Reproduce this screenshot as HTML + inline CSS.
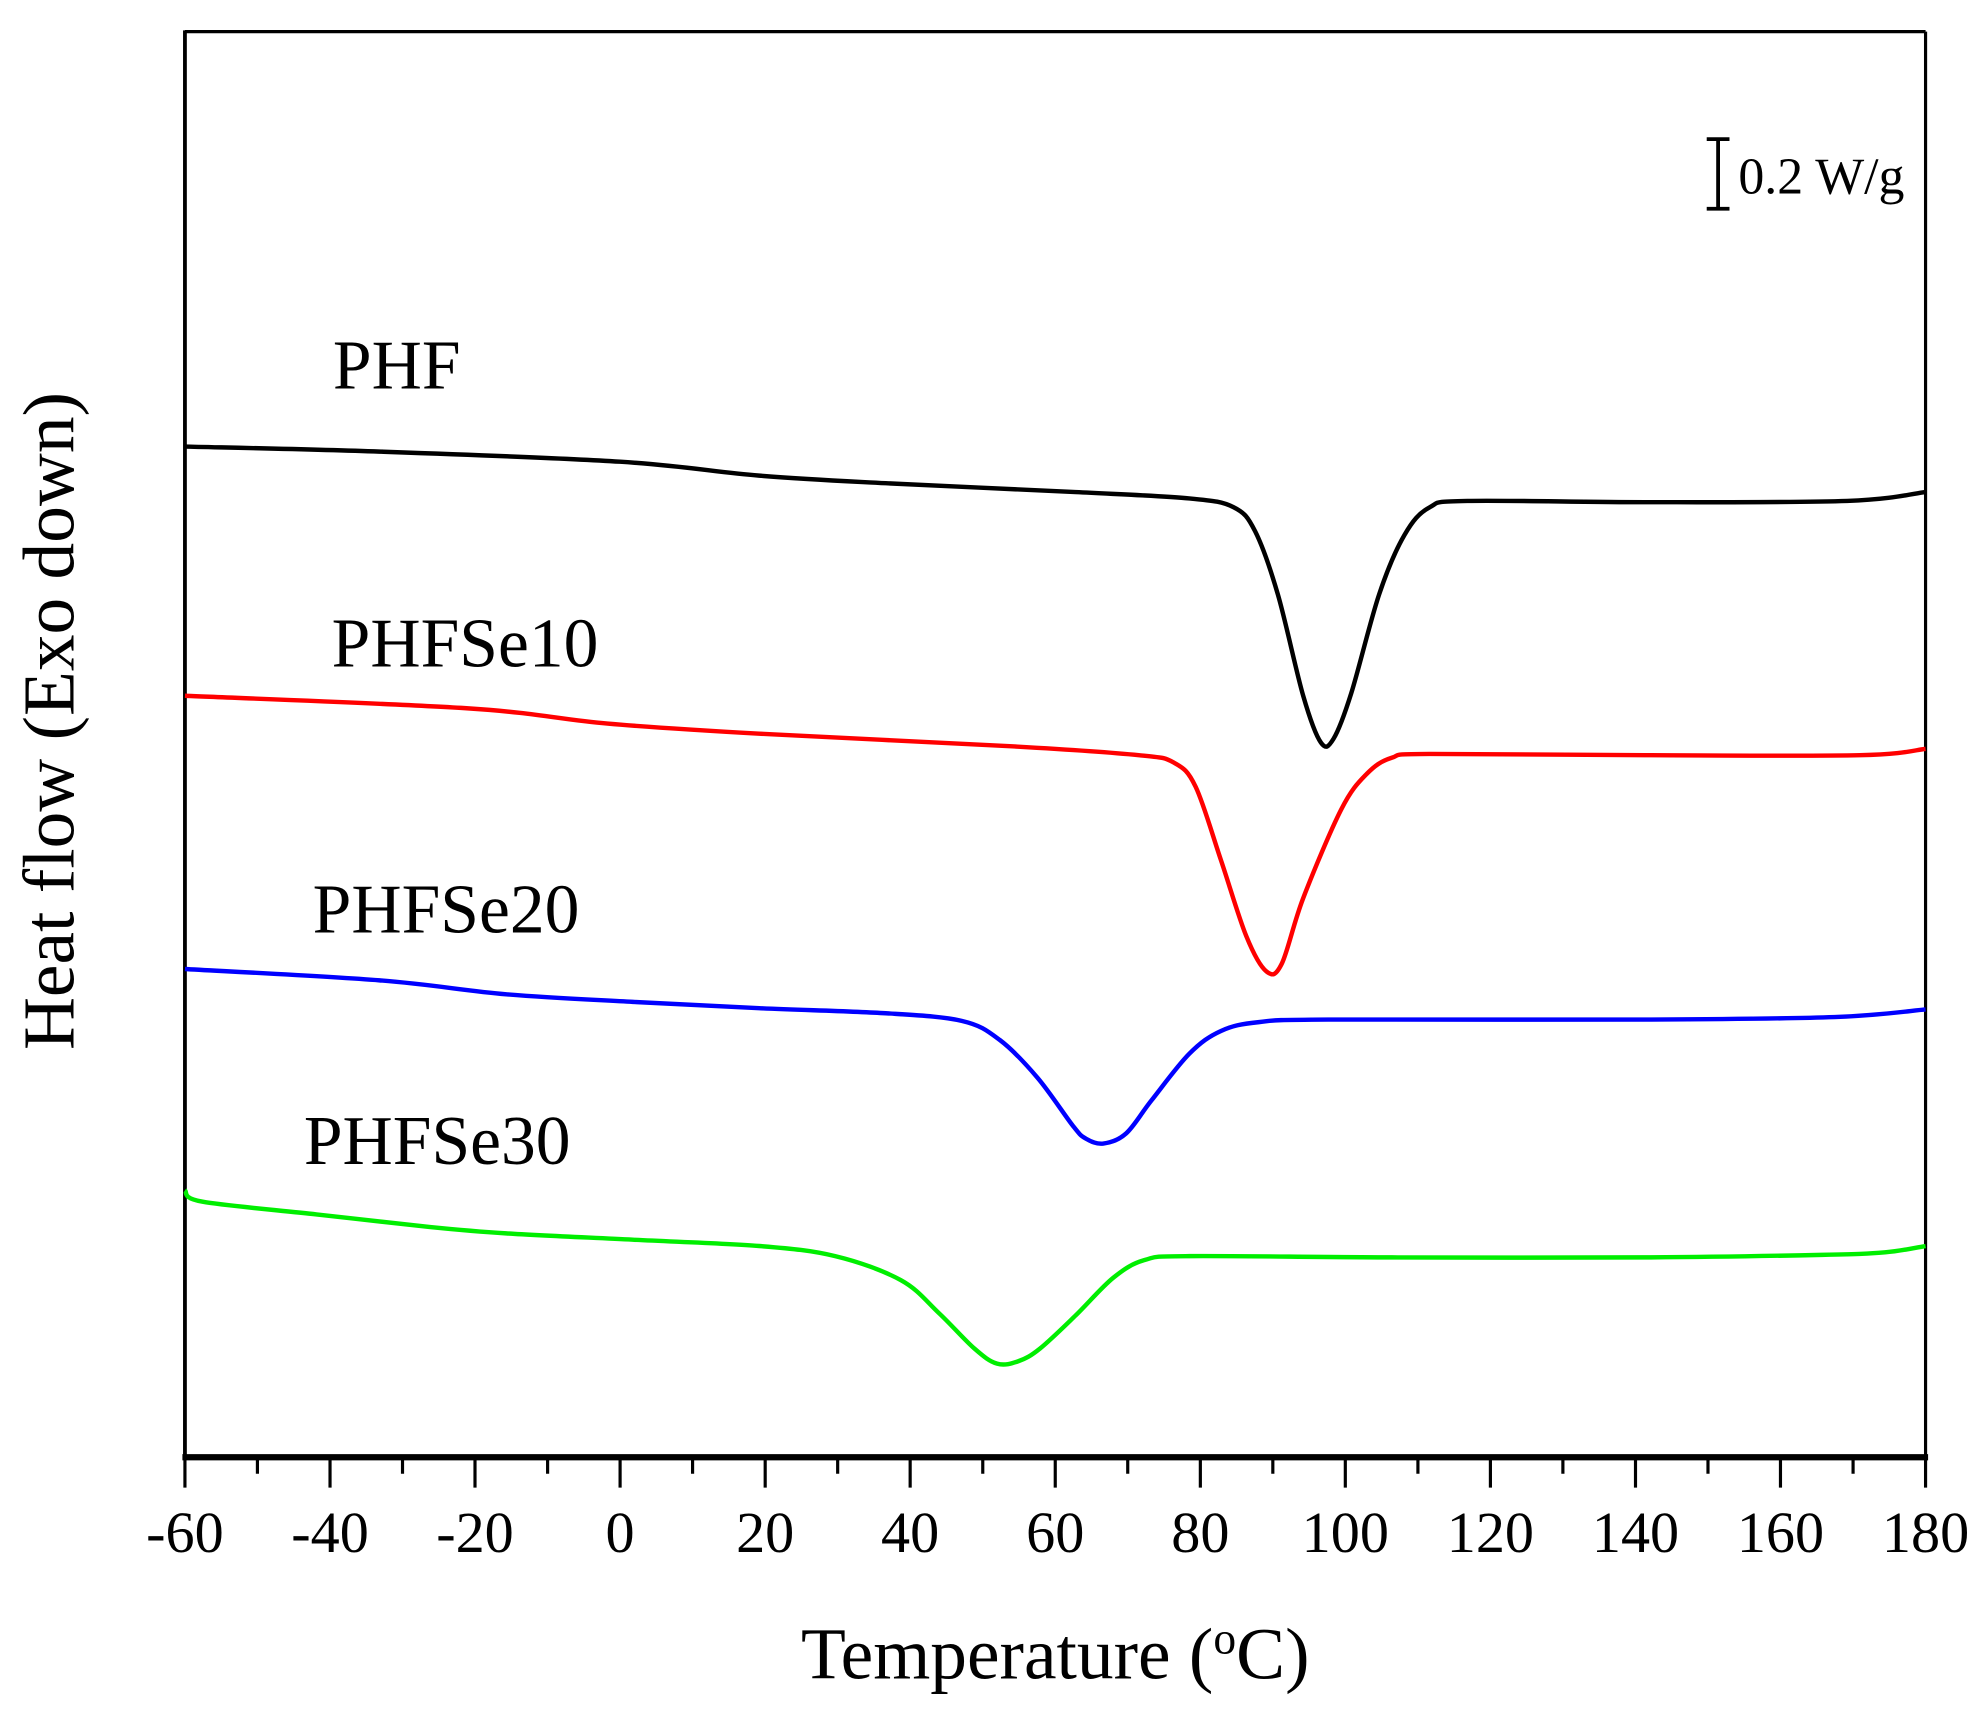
<!DOCTYPE html>
<html><head><meta charset="utf-8"><style>html,body{margin:0;padding:0;background:#fff}svg{display:block}</style></head>
<body>
<svg id="s" width="1984" height="1709" viewBox="0 0 1568 1351" xmlns="http://www.w3.org/2000/svg" font-family="'Liberation Serif', serif">
<rect width="1568" height="1351" fill="#fff"/>
<line x1="146" y1="25" x2="1522" y2="25" stroke="#000" stroke-width="2.5"/>
<line x1="1522" y1="25" x2="1522" y2="1153" stroke="#000" stroke-width="2.5"/>
<line x1="146" y1="24" x2="146" y2="1154" stroke="#000" stroke-width="3"/>
<line x1="144" y1="1152" x2="1524" y2="1152" stroke="#000" stroke-width="5"/>
<g stroke="#000" stroke-width="2.5">
<path d="M146 1152V1176M260.7 1152V1176M375.3 1152V1176M490 1152V1176M604.7 1152V1176M719.3 1152V1176M834 1152V1176M948.7 1152V1176M1063.3 1152V1176M1178 1152V1176M1292.7 1152V1176M1407.3 1152V1176M1522 1152V1176"/>
<path d="M203.3 1152V1165M318 1152V1165M432.7 1152V1165M547.3 1152V1165M662 1152V1165M776.7 1152V1165M891.3 1152V1165M1006 1152V1165M1120.7 1152V1165M1235.3 1152V1165M1350 1152V1165M1464.7 1152V1165"/>
</g>
<g font-size="46" text-anchor="middle">
<text x="146" y="1227">-60</text><text x="260.7" y="1227">-40</text><text x="375.3" y="1227">-20</text><text x="490" y="1227">0</text><text x="604.7" y="1227">20</text><text x="719.3" y="1227">40</text><text x="834" y="1227">60</text><text x="948.7" y="1227">80</text><text x="1063.3" y="1227">100</text><text x="1178" y="1227">120</text><text x="1292.7" y="1227">140</text><text x="1407.3" y="1227">160</text><text x="1522" y="1227">180</text>
</g>
<text x="834" y="1327" font-size="58" text-anchor="middle">Temperature (<tspan font-size="36" dy="-20">o</tspan><tspan dy="20">C)</tspan></text>
<text transform="translate(58,570) rotate(-90)" font-size="58" text-anchor="middle">Heat flow (Exo down)</text>
<g fill="none" stroke-width="3.5" stroke-linejoin="round">
<path class="c" stroke="#000" data-p="146,353 300,357 490,365 600,376 700,382 850,389 940,394 975,401 992,420 1010,470 1030,550 1044,587 1054,584 1068,548 1090,470 1110,423 1130,401 1160,396 1300,397 1460,396 1522,389"/>
<path class="c" stroke="#ff0000" data-p="146,550 370,560 480,572 600,580 800,590 900,597 928,603 945,622 965,680 985,740 1001,768 1013,762 1030,710 1060,640 1080,612 1100,599 1130,596 1300,597 1470,597 1522,592"/>
<path class="c" stroke="#0000ff" data-p="146,766 300,775 400,786 500,792 600,797 700,801 760,807 790,822 820,852 848,890 858,900 872,904 890,896 910,870 940,833 965,815 995,808 1050,806 1300,806 1450,804 1522,798"/>
<path class="c" stroke="#00ee00" data-p="146,941 160,950 250,960 340,970 400,975 500,980 600,985 660,993 712,1012 742,1038 770,1066 788,1078 805,1076 822,1066 850,1040 880,1010 905,996 940,993 1100,994 1300,994 1440,992 1490,990 1522,985"/>
</g>
<g font-size="55">
<text x="263" y="307">PHF</text>
<text x="262" y="527">PHFSe10</text>
<text x="247" y="737">PHFSe20</text>
<text x="240" y="920">PHFSe30</text>
</g>
<g stroke="#000" stroke-width="3"><line x1="1358" y1="110" x2="1358" y2="165"/><line x1="1349" y1="110" x2="1367" y2="110"/><line x1="1349" y1="165" x2="1367" y2="165"/></g>
<text x="1374" y="153" font-size="41">0.2 W/g</text>
</svg>
<script>
document.querySelectorAll('path.c').forEach(function(el){
var p=el.getAttribute('data-p').split(' ').map(function(s){return s.split(',').map(Number);});
var d='M'+p[0][0]+' '+p[0][1];
for(var i=0;i<p.length-1;i++){
var p0=p[i-1]||p[i],p1=p[i],p2=p[i+1],p3=p[i+2]||p2;
var c1=[p1[0]+(p2[0]-p0[0])/6,p1[1]+(p2[1]-p0[1])/6];
var c2=[p2[0]-(p3[0]-p1[0])/6,p2[1]-(p3[1]-p1[1])/6];
d+=' C'+c1[0]+' '+c1[1]+' '+c2[0]+' '+c2[1]+' '+p2[0]+' '+p2[1];
}
el.setAttribute('d',d);
});
</script>
</body></html>
